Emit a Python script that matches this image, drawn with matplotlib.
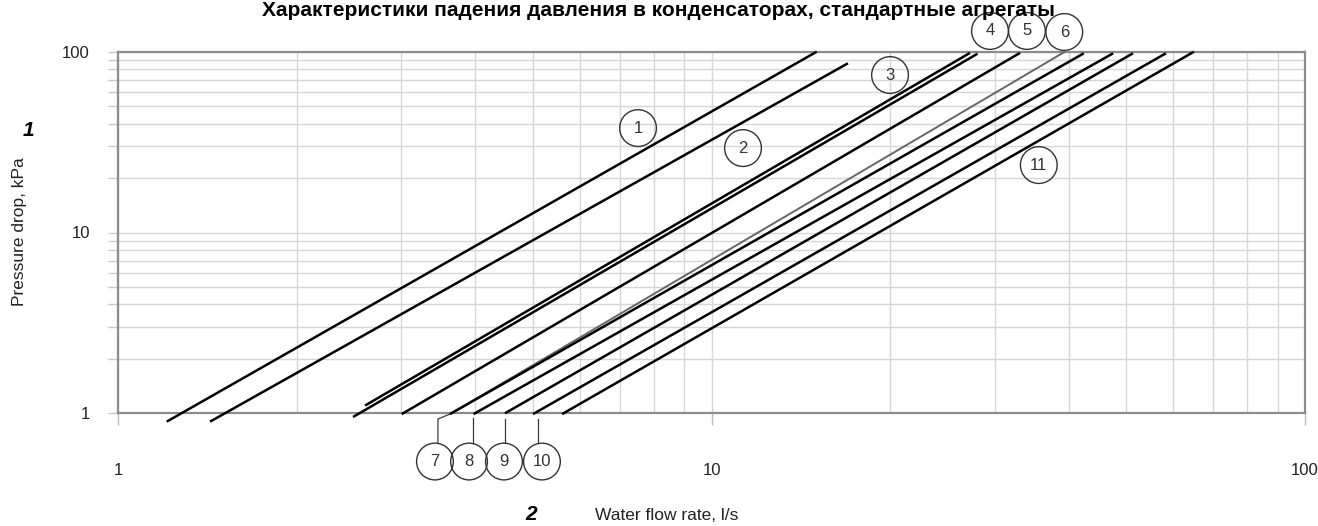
import matplotlib
matplotlib.use("Agg")
import matplotlib.pyplot as plt
from matplotlib.ticker import LogLocator, NullFormatter, FixedLocator

plt.rcParams['font.family'] = ['Liberation Sans', 'DejaVu Sans']

# ---------------- data ----------------
curve_ids = ['1', '2', '3', '4', '5', '6', '7', '8', '9', '10', '11']
flow_start = [1.208, 1.429, 2.608, 2.489, 3.006, 3.625, 3.625, 3.972, 4.487, 5.003, 5.60]
dp_start = [0.899, 0.899, 1.104, 0.954, 0.99, 0.99, 0.99, 0.99, 1.0, 0.99, 0.99]
flow_end = [15.04, 16.98, 27.26, 28.07, 33.1, 39.4, 42.4, 47.5, 51.3, 58.3, 65.0]
dp_end = [100.0, 86.3, 98.5, 97.5, 98.5, 100.0, 98.0, 98.0, 98.0, 98.0, 100.0]

x_ticks = [1, 10, 100]
x_tick_labels = ['1', '10', '100']
y_ticks = [1, 10, 100]
y_tick_labels = ['1', '10', '100']

title = 'Характеристики падения давления в конденсаторах, стандартные агрегаты'
y_label = 'Pressure drop, kPa'
x_label = 'Water flow rate, l/s'

# label circle positions (data coordinates)
label_pos = {
    '1': (7.52, 37.8), '2': (11.30, 29.3), '3': (19.99, 74.3),
    '4': (29.46, 130.2), '5': (34.0, 130.2), '6': (39.3, 128.5),
    '11': (35.6, 23.6),
    '7': (3.42, 0.541), '8': (3.904, 0.541), '9': (4.47, 0.541), '10': (5.18, 0.541),
}

# ---------------- figure ----------------
W, H = 1318, 526
fig = plt.figure(figsize=(W / 100, H / 100), dpi=100)
left, right, top, bottom = 118, 1305, 51.7, 413.3
ax = fig.add_axes([left / W, 1 - bottom / H, (right - left) / W, (bottom - top) / H])
ax.set_xscale('log')
ax.set_yscale('log')
ax.set_xlim(1, 100)
ax.set_ylim(1, 100)

ax.grid(which='both', color='#d6d6d6', lw=1.0, zorder=0)
for s in ax.spines.values():
    s.set_color('#8c8c8c')
    s.set_linewidth(1.6)
    s.set_zorder(3)

ax.xaxis.set_major_locator(FixedLocator(x_ticks))
ax.set_xticklabels(x_tick_labels)
ax.yaxis.set_major_locator(FixedLocator(y_ticks))
ax.set_yticklabels(y_tick_labels)
ax.xaxis.set_minor_locator(LogLocator(base=10, subs=range(2, 10)))
ax.yaxis.set_minor_locator(LogLocator(base=10, subs=range(2, 10)))
ax.xaxis.set_minor_formatter(NullFormatter())
ax.yaxis.set_minor_formatter(NullFormatter())

ax.tick_params(axis='x', which='major', length=8.6, width=1.0, color='#bdbdbd',
               pad=27, labelsize=12, labelcolor='#222222')
ax.tick_params(axis='x', which='minor', length=0)
ax.tick_params(axis='y', which='both', length=7.2, width=1.0, color='#c8c8c8',
               pad=13, labelsize=12, labelcolor='#222222')

# curves
for i, cid in enumerate(curve_ids):
    col = '#666666' if cid == '6' else '#000000'
    lw = 1.4 if cid == '6' else 1.8
    ax.plot([flow_start[i], flow_end[i]], [dp_start[i], dp_end[i]], color=col, lw=lw,
            clip_on=False, solid_capstyle='butt', zorder=4)

# leaders for bottom labels
lead_col = '#3a3a3a'
ax.plot([3.46, 3.46, 3.625], [0.685, 0.930, 0.99], color=lead_col, lw=0.9, clip_on=False, zorder=4)
ax.plot([3.96, 3.96], [0.685, 0.94], color=lead_col, lw=0.9, clip_on=False, zorder=4)
ax.plot([4.49, 4.49], [0.685, 0.93], color=lead_col, lw=0.9, clip_on=False, zorder=4)
ax.plot([5.10, 5.10], [0.685, 0.93], color=lead_col, lw=0.9, clip_on=False, zorder=4)

# label circles
for cid, (lx, ly) in label_pos.items():
    ax.scatter([lx], [ly], s=700, facecolors='none', edgecolors='#333333',
               linewidths=1.0, clip_on=False, zorder=6)
    ax.text(lx, ly, cid, ha='center', va='center', fontsize=12, color='#333333',
            clip_on=False, zorder=7)

# texts
fig.text(0.5, 1 - 1 / H, title, ha='center', va='top', fontsize=15, fontweight='bold')
fig.text(20 / W, 1 - 232 / H, y_label, rotation=90, ha='center', va='center', fontsize=12.5,
         color='#222222')
fig.text(28 / W, 1 - 130 / H, '1', ha='center', va='center', fontsize=15,
         fontweight='bold', style='italic')
fig.text(531 / W, 1 - 515 / H, '2', ha='center', va='center', fontsize=15,
         fontweight='bold', style='italic')
fig.text(595 / W, 1 - 515 / H, x_label, ha='left', va='center', fontsize=12.5, color='#222222')

fig.savefig('out.png', dpi=100)
